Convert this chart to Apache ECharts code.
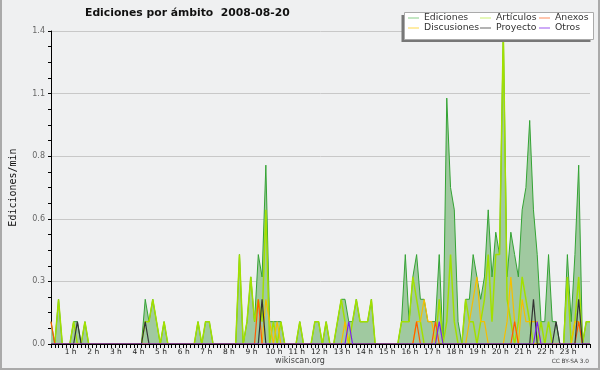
<!DOCTYPE html>
<html><head><meta charset="utf-8">
<script src="https://cdn.jsdelivr.net/npm/echarts@6/dist/echarts.min.js"></script>
<style>html,body{margin:0;padding:0;background:#eff0f1;} #c{width:600px;height:370px;}</style>
</head><body><div id="c"></div>
<script>
// 10-minute bins, 144 per day
const hourLabels = ['0 h','1 h','2 h','3 h','4 h','5 h','6 h','7 h','8 h','9 h','10 h','11 h','12 h','13 h','14 h','15 h','16 h','17 h','18 h','19 h','20 h','21 h','22 h','23 h'];
const yTickValues = [0, 0.28, 0.56, 0.84, 1.12, 1.4];

const ediciones = [
0.1,0,0.2,0,0,0,   0.1,0.1,0,0.1,0,0,   0,0,0,0,0,0,   0,0,0,0,0,0,
0,0.2,0.1,0.2,0.1,0,   0.1,0,0,0,0,0,   0,0,0,0.1,0,0.1,   0.1,0,0,0,0,0,
0,0,0.4,0,0.1,0.3,   0.1,0.4,0.3,0.8,0.1,0.1,   0.1,0.1,0,0,0,0,   0.1,0,0,0,0.1,0.1,
0,0.1,0,0,0.1,0.2,   0.2,0.1,0.1,0.2,0.1,0.1,   0.1,0.2,0,0,0,0,   0,0,0,0.1,0.4,0.1,
0.3,0.4,0.2,0.2,0.1,0.1,   0.1,0.4,0,1.1,0.7,0.6,   0.1,0,0.2,0.2,0.4,0.3,   0.2,0.3,0.6,0.3,0.5,0.4,
1.4,0.3,0.5,0.4,0.3,0.6,   0.7,1.0,0.6,0.4,0.1,0.1,   0.4,0.1,0.1,0,0,0.4,   0.1,0.4,0.8,0,0.1,0.1
];
const articulos = [
0,0,0.2,0,0,0,   0.1,0,0,0.1,0,0,   0,0,0,0,0,0,   0,0,0,0,0,0,
0,0.1,0.1,0.2,0.1,0,   0.1,0,0,0,0,0,   0,0,0,0.1,0,0.1,   0.1,0,0,0,0,0,
0,0,0.4,0,0.1,0.3,   0.1,0.2,0.1,0.6,0,0.1,   0,0.1,0,0,0,0,   0.1,0,0,0,0.1,0.1,
0,0.1,0,0,0.1,0.2,   0.1,0,0.1,0.2,0.1,0.1,   0.1,0.2,0,0,0,0,   0,0,0,0.1,0.1,0.1,
0.3,0.2,0.1,0,0,0,   0,0.2,0,0.1,0.4,0.1,   0,0,0.2,0.1,0.1,0,   0.1,0.2,0.4,0.1,0.4,0.4,
1.4,0.2,0.1,0,0.1,0.3,   0.2,0.1,0,0,0.1,0,   0.1,0,0,0,0,0.3,   0,0.1,0.3,0,0.1,0.1
];
const discusiones = [
0,0,0,0,0,0,   0,0,0,0,0,0,   0,0,0,0,0,0,   0,0,0,0,0,0,
0,0,0,0,0,0,   0,0,0,0,0,0,   0,0,0,0,0,0,   0,0,0,0,0,0,
0,0,0,0,0,0,   0,0,0,0.2,0.1,0,   0.1,0,0,0,0,0,   0,0,0,0,0,0,
0,0,0,0,0,0,   0.1,0,0,0,0,0,   0,0,0,0,0,0,   0,0,0,0,0,0,
0,0.1,0.1,0.2,0.1,0.1,   0,0,0,0,0,0,   0,0,0,0.1,0.2,0.3,   0.1,0.1,0,0,0,0,
0,0.1,0.3,0.1,0,0.2,   0.1,0.1,0.1,0.1,0,0,   0,0,0,0,0,0,   0,0.1,0.1,0,0,0
];
const anexos = [
0.1,0,0,0,0,0,   0,0,0,0,0,0,   0,0,0,0,0,0,   0,0,0,0,0,0,
0,0,0,0,0,0,   0,0,0,0,0,0,   0,0,0,0,0,0,   0,0,0,0,0,0,
0,0,0,0,0,0,   0,0.2,0,0,0,0,   0,0,0,0,0,0,   0,0,0,0,0,0,
0,0,0,0,0,0,   0,0,0,0,0,0,   0,0,0,0,0,0,   0,0,0,0,0,0,
0,0.1,0,0,0,0,   0.1,0,0,0,0,0,   0,0,0,0,0,0,   0,0,0,0,0,0,
0,0,0,0.1,0,0,   0,0,0,0,0,0,   0,0,0,0,0,0,   0,0,0.1,0,0,0
];
const proyecto = [
0,0,0,0,0,0,   0,0.1,0,0,0,0,   0,0,0,0,0,0,   0,0,0,0,0,0,
0,0.1,0,0,0,0,   0,0,0,0,0,0,   0,0,0,0,0,0,   0,0,0,0,0,0,
0,0,0,0,0,0,   0,0,0.2,0,0,0,   0,0,0,0,0,0,   0,0,0,0,0,0,
0,0,0,0,0,0,   0,0,0,0,0,0,   0,0,0,0,0,0,   0,0,0,0,0,0,
0,0,0,0,0,0,   0,0,0,0,0,0,   0,0,0,0,0,0,   0,0,0,0,0,0,
0,0,0,0,0,0,   0,0,0.2,0,0,0,   0,0,0.1,0,0,0,   0,0,0.2,0,0,0
];
const otros = [
0,0,0,0,0,0,   0,0,0,0,0,0,   0,0,0,0,0,0,   0,0,0,0,0,0,
0,0,0,0,0,0,   0,0,0,0,0,0,   0,0,0,0,0,0,   0,0,0,0,0,0,
0,0,0,0,0,0,   0,0,0,0,0,0,   0,0,0,0,0,0,   0,0,0,0,0,0,
0,0,0,0,0,0,   0,0.1,0,0,0,0,   0,0,0,0,0,0,   0,0,0,0,0,0,
0,0,0,0,0,0,   0,0.1,0,0,0,0,   0,0,0,0,0,0,   0,0,0,0,0,0,
0,0,0,0,0,0,   0,0,0,0.1,0,0,   0,0,0,0,0,0,   0,0,0,0,0,0
];

const categories = [];
for (let h = 0; h < 24; h++) for (let m = 0; m < 60; m += 10)
  categories.push(String(h).padStart(2,'0') + ':' + String(m).padStart(2,'0'));

const chart = echarts.init(document.getElementById('c'), null, {renderer:'canvas'});
const F = 'DejaVu Sans';
function ln(name, data, color, legendColor, width, z){
  return {name, type:'line', data, symbol:'none', showSymbol:false, z,
    lineStyle:{color, width}, itemStyle:{color:legendColor}, animation:false, silent:true};
}
const ed = ln('Ediciones', ediciones, '#34a334', '#86cc86', 1, 2);
ed.areaStyle = {color:'#a0c9a0', opacity:1};
const legendCommon = {orient:'vertical', top:13, itemGap:0, itemWidth:11, itemHeight:1, icon:'rect', padding:0,
  textStyle:{fontSize:9.3, fontFamily:F, color:'#333', lineHeight:10}, selectedMode:false, z:20};
chart.setOption({
  backgroundColor:'#eff0f1',
  animation:false,
  title:{text:'Ediciones por ámbito  2008-08-20', left:85, top:8, padding:0,
    textStyle:{fontFamily:F, fontWeight:'bold', fontSize:10.8, color:'#111'}},
  legend:[
    Object.assign({left:408, data:['Ediciones','Discusiones']}, legendCommon),
    Object.assign({left:480, data:['Artículos','Proyecto']}, legendCommon),
    Object.assign({left:539, data:['Anexos','Otros']}, legendCommon)
  ],
  grid:{left:46, right:10, top:31, bottom:26, containLabel:false},
  xAxis:{type:'category', data:categories, boundaryGap:false, z:10,
    axisLine:{lineStyle:{color:'#000', width:1}},
    axisTick:{interval:0, length:4, lineStyle:{color:'#000'}},
    axisLabel:{interval:(i)=> i % 6 === 0 && i > 0, formatter:(v,i)=>hourLabels[Math.floor(i/6)],
      fontSize:7.5, fontFamily:F, color:'#222', margin:4, hideOverlap:false, padding:[0,6,0,0]},
    splitLine:{show:false}},
  yAxis:{type:'value', min:yTickValues[0], max:yTickValues[yTickValues.length-1], interval:0.28,
    name:'Ediciones/min', nameLocation:'middle', nameGap:33, nameRotate:90,
    nameTextStyle:{fontFamily:'DejaVu Sans Mono', fontSize:10, color:'#111'},
    axisLine:{show:true, lineStyle:{color:'#000'}},
    axisTick:{show:true, length:3, lineStyle:{color:'#000'}},
    minorTick:{show:true, splitNumber:4, length:3, lineStyle:{color:'#000'}},
    axisLabel:{formatter:(v)=>v.toFixed(1), fontSize:8, fontFamily:F, color:'#666', margin:6},
    splitLine:{show:true, lineStyle:{color:'#c8c8c8', width:1}}},
  series:[
    ed,
    ln('Artículos', articulos, '#a2e000', '#c8ee70', 1.5, 3),
    ln('Discusiones', discusiones, '#f5bf00', '#ffd84a', 1.2, 4),
    ln('Anexos', anexos, '#ff5a00', '#ff8a5a', 1.2, 5),
    ln('Proyecto', proyecto, '#333333', '#666666', 1.2, 6),
    ln('Otros', otros, '#7a22ee', '#9a55ee', 1.2, 7)
  ],
  graphic:[
    {type:'rect', z:10, shape:{x:401.5, y:15, width:189, height:27}, style:{fill:'#777'}},
    {type:'rect', z:11, shape:{x:404.5, y:12.5, width:189, height:27}, style:{fill:'#fff', stroke:'#aaa', lineWidth:1}},
    {type:'text', z:10, left:'center', top:357, style:{text:'wikiscan.org', font:'8px "DejaVu Sans"', fill:'#444'}},
    {type:'text', z:10, right:11, top:358, style:{text:'CC BY-SA 3.0', font:'5.8px "DejaVu Sans"', fill:'#444'}},
    {type:'line', z:10, shape:{x1:1, y1:0, x2:1, y2:370}, style:{stroke:'#aaa', lineWidth:2}},
    {type:'line', z:10, shape:{x1:599, y1:0, x2:599, y2:370}, style:{stroke:'#aaa', lineWidth:2}},
    {type:'line', z:10, shape:{x1:0, y1:369, x2:600, y2:369}, style:{stroke:'#aaa', lineWidth:2}}
  ]
});
</script></body></html>
